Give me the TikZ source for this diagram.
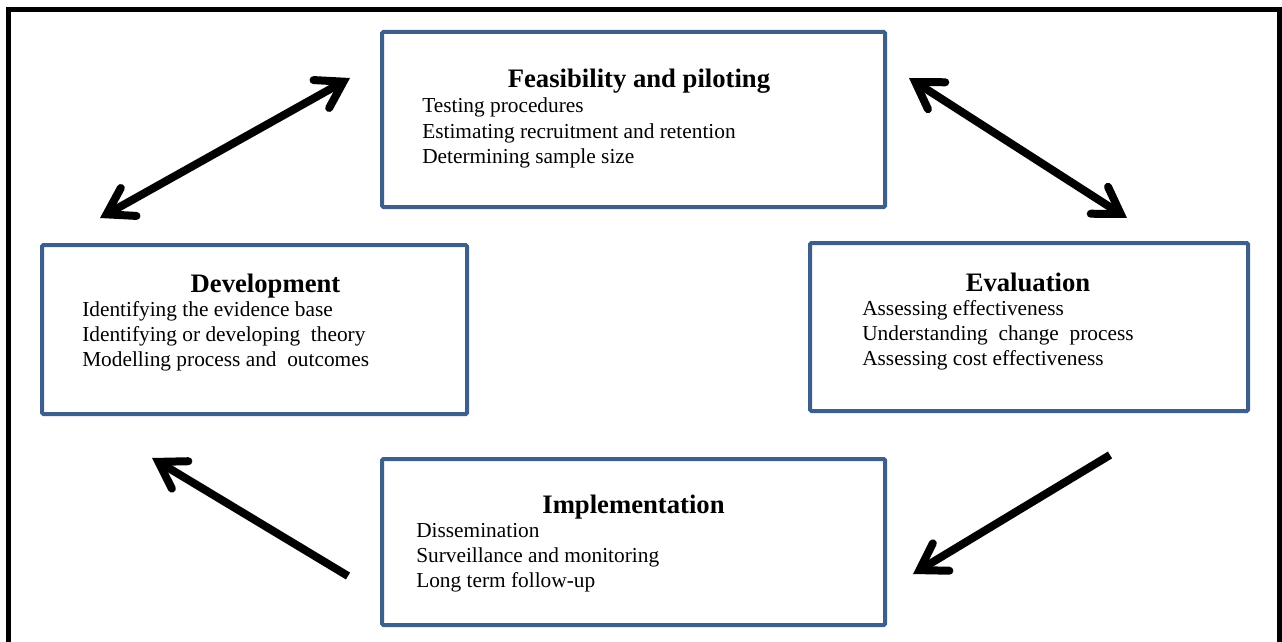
\documentclass[tikz,border=0pt]{standalone}
\usepackage{fontspec}
\setmainfont{Liberation Serif}
\usepackage{xcolor}
\usetikzlibrary{arrows.meta, positioning}
\definecolor{boxblue}{RGB}{61,95,140}
\newdimen\pxu
\pxu=0.75pt

\begin{document}
\begin{tikzpicture}[x=0.75pt, y=-0.75pt,
    stagebox/.style = {draw=boxblue, line width=3pt, rounded corners=1pt,
                       inner sep=0pt},
    stagetitle/.style = {anchor=base, inner sep=0pt,
                         font=\fontsize{20}{24}\selectfont\bfseries},
    stageitem/.style = {anchor=base west, inner sep=0pt,
                        font=\fontsize{16}{19}\selectfont},
    barb/.tip = {Straight Barb[length=19pt, width=24pt, line cap=round, line join=miter]},
    flow/.style = {line width=6pt, -barb},
    twoway/.style = {flow, barb-barb} ]

\useasboundingbox (0,0) rectangle (1282,642);
\clip (0,0) rectangle (1282,642);

% outer frame
\draw[line width=3.75pt] (8,10) rectangle (1279,680);

% the four stages
\node[stagebox, minimum width=503\pxu, minimum height=175\pxu] (feas) at (633.5,119.5) {};
\node[stagebox, minimum width=425\pxu, minimum height=169\pxu] (dev)  at (254.5,329.5) {};
\node[stagebox, minimum width=438\pxu, minimum height=168\pxu] (eval) at (1029,327) {};
\node[stagebox, minimum width=503\pxu, minimum height=166\pxu] (impl) at (633.5,542) {};

\node[stagetitle] (feas title) at (639,88)  {Feasibility and piloting};
\node[stagetitle] (dev title)  at (265.5,292) {Development};
\node[stagetitle] (eval title) at (1028,291) {Evaluation};
\node[stagetitle] (impl title) at (633.5,513) {Implementation};

\foreach \txt [count=\i] in {Testing procedures,
                             Estimating recruitment and retention,
                             Determining sample size}
  \node[stageitem] (feas-\i) at (422,88+25*\i) {\txt};

\foreach \txt [count=\i] in {Identifying the evidence base,
                             Identifying or developing~ theory,
                             Modelling process and~ outcomes}
  \node[stageitem] (dev-\i) at (82,292+24.7*\i) {\txt};

\foreach \txt [count=\i] in {Assessing effectiveness,
                             Understanding~ change~ process,
                             Assessing cost effectiveness}
  \node[stageitem] (eval-\i) at (862,291+24.7*\i) {\txt};

\foreach \txt [count=\i] in {Dissemination,
                             Surveillance and monitoring,
                             Long term follow-up}
  \node[stageitem] (impl-\i) at (416,513+24.7*\i) {\txt};

% arrow ends
\coordinate (fd-a) at (100,218);
\coordinate (fd-b) at (350,78);
\coordinate (fe-a) at (909,78);
\coordinate (fe-b) at (1127,218);
\coordinate (ei-a) at (1110,455);
\coordinate (ei-b) at (913,574);
\coordinate (id-a) at (348,576);
\coordinate (id-b) at (152,458);

\draw[twoway] (fd-a) -- (fd-b);
\draw[twoway] (fe-a) -- (fe-b);
\draw[flow] (ei-a) -- (ei-b);
\draw[flow] (id-a) -- (id-b);
\end{tikzpicture}
\end{document}
